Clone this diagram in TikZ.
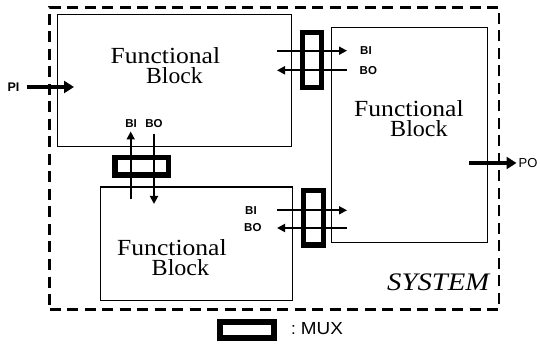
\documentclass[tikz,border=0pt]{standalone}
\usepackage{fontspec}
\newfontfamily\lsans{Liberation Sans}
\newfontfamily\lserif{Liberation Serif}
\usetikzlibrary{arrows.meta}
\begin{document}
\begin{tikzpicture}[x=1pt,y=-1pt,
  fblock/.style={draw, line width=1.1pt, rectangle, inner sep=0pt, outer sep=0pt},
  sysbox/.style={draw, line width=2.2pt, dash pattern=on 11pt off 6.5pt, inner sep=0pt},
  muxbox/.style={draw, line width=5.5pt, inner sep=0pt, outer sep=0pt},
  sig/.style={line width=1.8pt, -{Triangle[length=8pt,width=8pt]}},
  port/.style={line width=4.5pt, -{Triangle[length=10pt,width=12pt]}},
  lbl/.style={font=\lsans\bfseries\fontsize{11.5}{13}\selectfont, inner sep=0pt},
  fbtxt/.style={inner sep=0pt, anchor=base west, align=left, font=\lserif\fontsize{14}{20}\selectfont},
]
\useasboundingbox (0,0) rectangle (540,344);

% system boundary
\node[sysbox, minimum width=449.5pt, minimum height=302pt] (sys) at (274.25,158.5) {};

% functional blocks
\node[fblock, minimum width=233.6pt, minimum height=131.7pt] (fb1) at (174.5,80.65) {};
\node[fblock, minimum width=191.8pt, minimum height=113.5pt] (fb2) at (196.6,243.75) {};
\node[fblock, minimum width=156pt, minimum height=215.3pt] (fb3) at (409.8,135.15) {};

% block texts (anchor = baseline of the last line)
\node[fbtxt] (t1) at (110.5,83.3) {\resizebox{109.5pt}{16pt}{Functional}\\\hspace*{35.5pt}\resizebox{56.5pt}{16pt}{Block}};
\node[fbtxt] (t3) at (354,136.2) {\resizebox{109.5pt}{16pt}{Functional}\\\hspace*{36pt}\resizebox{57.5pt}{16pt}{Block}};
\node[fbtxt] (t2) at (117,275.7) {\resizebox{109.5pt}{16pt}{Functional}\\\hspace*{34.5pt}\resizebox{57.5pt}{16pt}{Block}};
\node[inner sep=0pt, anchor=base west] (systxt) at (387,290) {\resizebox{102pt}{16.7pt}{\lserif\itshape SYSTEM}};

% MUXes
\node[muxbox, minimum width=19pt, minimum height=55pt] (muxtr) at (311.75,60.25) {};
\node[muxbox, minimum width=20pt, minimum height=54.5pt] (muxbr) at (313.5,218) {};
\node[muxbox, minimum width=53.5pt, minimum height=17.5pt] (muxbl) at (141.5,166.5) {};

% arrow end points
\coordinate (trbiS) at (277,50.7);  \coordinate (trbiE) at (347,50.7);
\coordinate (trboS) at (347,70.3);  \coordinate (trboE) at (277,70.3);
\coordinate (brbiS) at (277,210.3); \coordinate (brbiE) at (347,210.3);
\coordinate (brboS) at (347,228);   \coordinate (brboE) at (277,228);
\coordinate (blbiS) at (130.7,199.5); \coordinate (blbiE) at (130.7,131.5);
\coordinate (blboS) at (154,134);   \coordinate (blboE) at (154,204);
\coordinate (piS) at (26.8,87);     \coordinate (piE) at (74,87);
\coordinate (poS) at (469,163);     \coordinate (poE) at (516.5,163);

\draw[sig] (trbiS) -- (trbiE);
\draw[sig] (trboS) -- (trboE);
\draw[sig] (brbiS) -- (brbiE);
\draw[sig] (brboS) -- (brboE);
\draw[sig] (blbiS) -- (blbiE);
\draw[sig] (blboS) -- (blboE);
\draw[port] (piS) -- (piE);
\draw[port] (poS) -- (poE);

% labels
\node[lbl, anchor=west] (ltrbi) at (360,50.7) {BI};
\node[lbl, anchor=west] (ltrbo) at (359.5,70.3) {BO};
\node[lbl, anchor=west] (lbrbi) at (245,210.3) {BI};
\node[lbl, anchor=west] (lbrbo) at (244,228) {BO};
\node[lbl] (lblbi) at (131,123.6) {BI};
\node[lbl] (lblbo) at (154,123.6) {BO};
\node[lbl, font=\lsans\bfseries\fontsize{12.5}{14}\selectfont] (lpi) at (13.5,87) {PI};
\node[lbl, anchor=west, font=\lsans\fontsize{13}{15}\selectfont] (lpo) at (518.5,163) {PO};

% legend
\node[muxbox, line width=6pt, minimum width=54pt, minimum height=15.5pt] (legmux) at (246.5,329.75) {};
\node[inner sep=0pt, anchor=base west, font=\lsans\fontsize{17}{20}\selectfont] (legtxt) at (291,334) {:\hspace{5pt}\resizebox{42pt}{12pt}{MUX}};
\end{tikzpicture}
\end{document}
